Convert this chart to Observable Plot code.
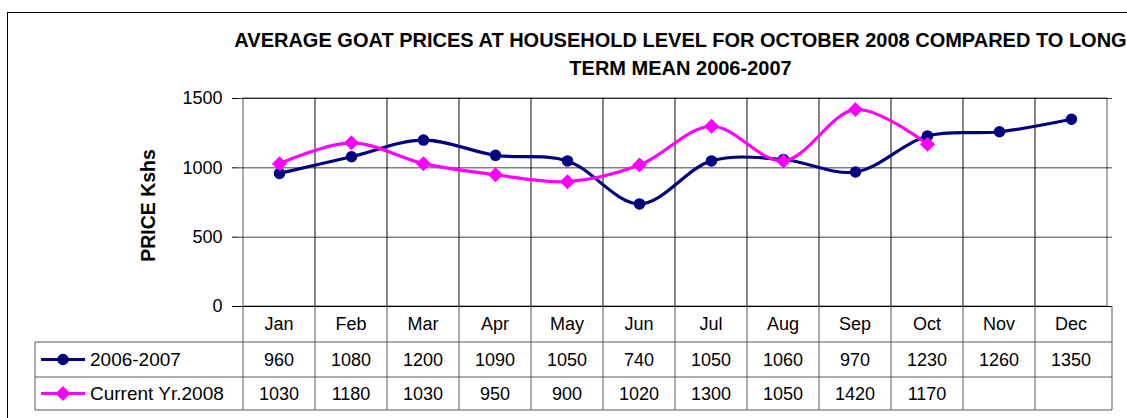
<!DOCTYPE html>
<html>
<head>
<meta charset="utf-8">
<script src="https://cdn.jsdelivr.net/npm/d3@7"></script>
<script src="https://cdn.jsdelivr.net/npm/@observablehq/plot@0.6"></script>
<style>
  html, body { margin: 0; padding: 0; background: #fff; }
  #chart svg { display: block; overflow: visible; }
</style>
</head>
<body>
<div id="chart"></div>
<script>
const months = ["Jan","Feb","Mar","Apr","May","Jun","Jul","Aug","Sep","Oct","Nov","Dec"];
const series2006 = [960,1080,1200,1090,1050,740,1050,1060,970,1230,1260,1350];
const series2008 = [1030,1180,1030,950,900,1020,1300,1050,1420,1170];
const seriesNames = ["2006-2007","Current Yr.2008"];
const yTicks = [0,500,1000,1500];
const titleText = "AVERAGE GOAT PRICES AT HOUSEHOLD LEVEL FOR OCTOBER 2008 COMPARED TO LONG\nTERM MEAN 2006-2007";
const yTitle = "PRICE Kshs";

const NAVY = "#000080", MAGENTA = "#FF00FF", GRID = "#5a5a5a";
const FONT = "'Liberation Sans', Arial, sans-serif";

const d06 = series2006.map((v,i)=>({m: months[i], v}));
const d08 = series2008.map((v,i)=>({m: months[i], v}));

const chart = Plot.plot({
  width: 1127, height: 418,
  marginLeft: 238, marginRight: 15, marginTop: 98, marginBottom: 112,
  x: {type: "band", domain: months, padding: 0, axis: null},
  y: {domain: [0,1500], axis: null},
  style: {fontFamily: FONT, fontSize: "18px", color: "#000", background: "transparent", overflow: "visible"},
  marks: [
    Plot.barY(months, {x: d=>d, y1: 0, y2: 1500, fill: "none", stroke: GRID, strokeWidth: 1}),
    Plot.gridY(yTicks.slice(1), {stroke: "#000", strokeOpacity: 0.75}),
    Plot.ruleY([0], {stroke: "#000"}),
    Plot.axisY({ticks: yTicks, tickSize: 6, tickPadding: 10, fontSize: 18, label: null, stroke: "#000", tickFormat: d => String(d)}),
    Plot.text([yTitle], {frameAnchor: "left", textAnchor: "middle", rotate: -90, dx: -90, dy: 3, fontWeight: "bold", fontSize: 19.5}),
    Plot.text([titleText], {frameAnchor: "top", textAnchor: "middle", dx: 5, dy: -72, lineAnchor: "top", lineHeight: 1.42, fontWeight: "bold", fontSize: 20}),
    Plot.line(d06, {x: "m", y: "v", curve: "catmull-rom", stroke: NAVY, strokeWidth: 3.2}),
    Plot.line(d08, {x: "m", y: "v", curve: "catmull-rom", stroke: MAGENTA, strokeWidth: 3.2}),
    Plot.dot(d06, {x: "m", y: "v", r: 5, fill: NAVY, stroke: NAVY, strokeWidth: 1.5}),
    Plot.dot(d08, {x: "m", y: "v", r: 5.8, symbol: "diamond2", fill: MAGENTA, stroke: MAGENTA, strokeWidth: 1.5})
  ]
});
document.getElementById("chart").appendChild(chart);

// Data table below the plot, aligned with Plot's own scales
const svg = d3.select(chart);
const xs = chart.scale("x"), ys = chart.scale("y");
const bw = xs.bandwidth;
const xR = xs.range[1];
const top0 = ys.apply(0);
const rowH = [36, 35, 33];
const rowY = [top0, top0 + rowH[0], top0 + rowH[0] + rowH[1], top0 + rowH[0] + rowH[1] + rowH[2]];
const legL = 35;
const g = svg.append("g").attr("font-family", FONT).attr("font-size", 18).attr("fill", "#000");
const lines = g.append("g").attr("stroke", GRID).attr("stroke-width", 1);
for (let r = 1; r <= 3; r++) {
  lines.append("line").attr("x1", legL).attr("x2", xR).attr("y1", rowY[r]).attr("y2", rowY[r]);
}
months.forEach(m => {
  const x = xs.apply(m);
  lines.append("line").attr("x1", x).attr("x2", x).attr("y1", rowY[0]).attr("y2", rowY[3]);
});
lines.append("line").attr("x1", xR).attr("x2", xR).attr("y1", rowY[0]).attr("y2", rowY[3]);
lines.append("line").attr("x1", legL).attr("x2", legL).attr("y1", rowY[1]).attr("y2", rowY[3]);

const cy = i => (rowY[i] + rowY[i+1]) / 2;
months.forEach((m, i) => {
  const cx = xs.apply(m) + bw / 2;
  g.append("text").attr("x", cx).attr("y", cy(0)).attr("text-anchor", "middle").attr("dy", "0.35em").text(m);
  if (series2006[i] != null) g.append("text").attr("x", cx).attr("y", cy(1)).attr("text-anchor", "middle").attr("dy", "0.35em").text(series2006[i]);
  if (series2008[i] != null) g.append("text").attr("x", cx).attr("y", cy(2)).attr("text-anchor", "middle").attr("dy", "0.35em").text(series2008[i]);
});
// legend keys in table
const keys = [{name: seriesNames[0], color: NAVY}, {name: seriesNames[1], color: MAGENTA}];
keys.forEach((k, j) => {
  const y = cy(j + 1);
  g.append("line").attr("x1", legL + 6).attr("x2", legL + 50).attr("y1", y).attr("y2", y).attr("stroke", k.color).attr("stroke-width", 3);
  if (j === 0) g.append("circle").attr("cx", legL + 28).attr("cy", y).attr("r", 5).attr("fill", k.color).attr("stroke", k.color).attr("stroke-width", 1.5);
  else g.append("path").attr("transform", `translate(${legL + 28},${y})`).attr("d", d3.symbol(d3.symbolDiamond2, 5.8*5.8*Math.PI)()).attr("fill", k.color).attr("stroke", k.color).attr("stroke-width", 1.5);
  g.append("text").attr("x", legL + 55).attr("y", y).attr("dy", "0.35em").attr("text-anchor", "start").attr("font-size", 19).text(k.name);
});

// outer chart-area border
svg.insert("rect", ":first-child").attr("x", 7.5).attr("y", 12.5).attr("width", 1200).attr("height", 500).attr("fill", "#fff").attr("stroke", "#000").attr("stroke-width", 1);
</script>
</body>
</html>
